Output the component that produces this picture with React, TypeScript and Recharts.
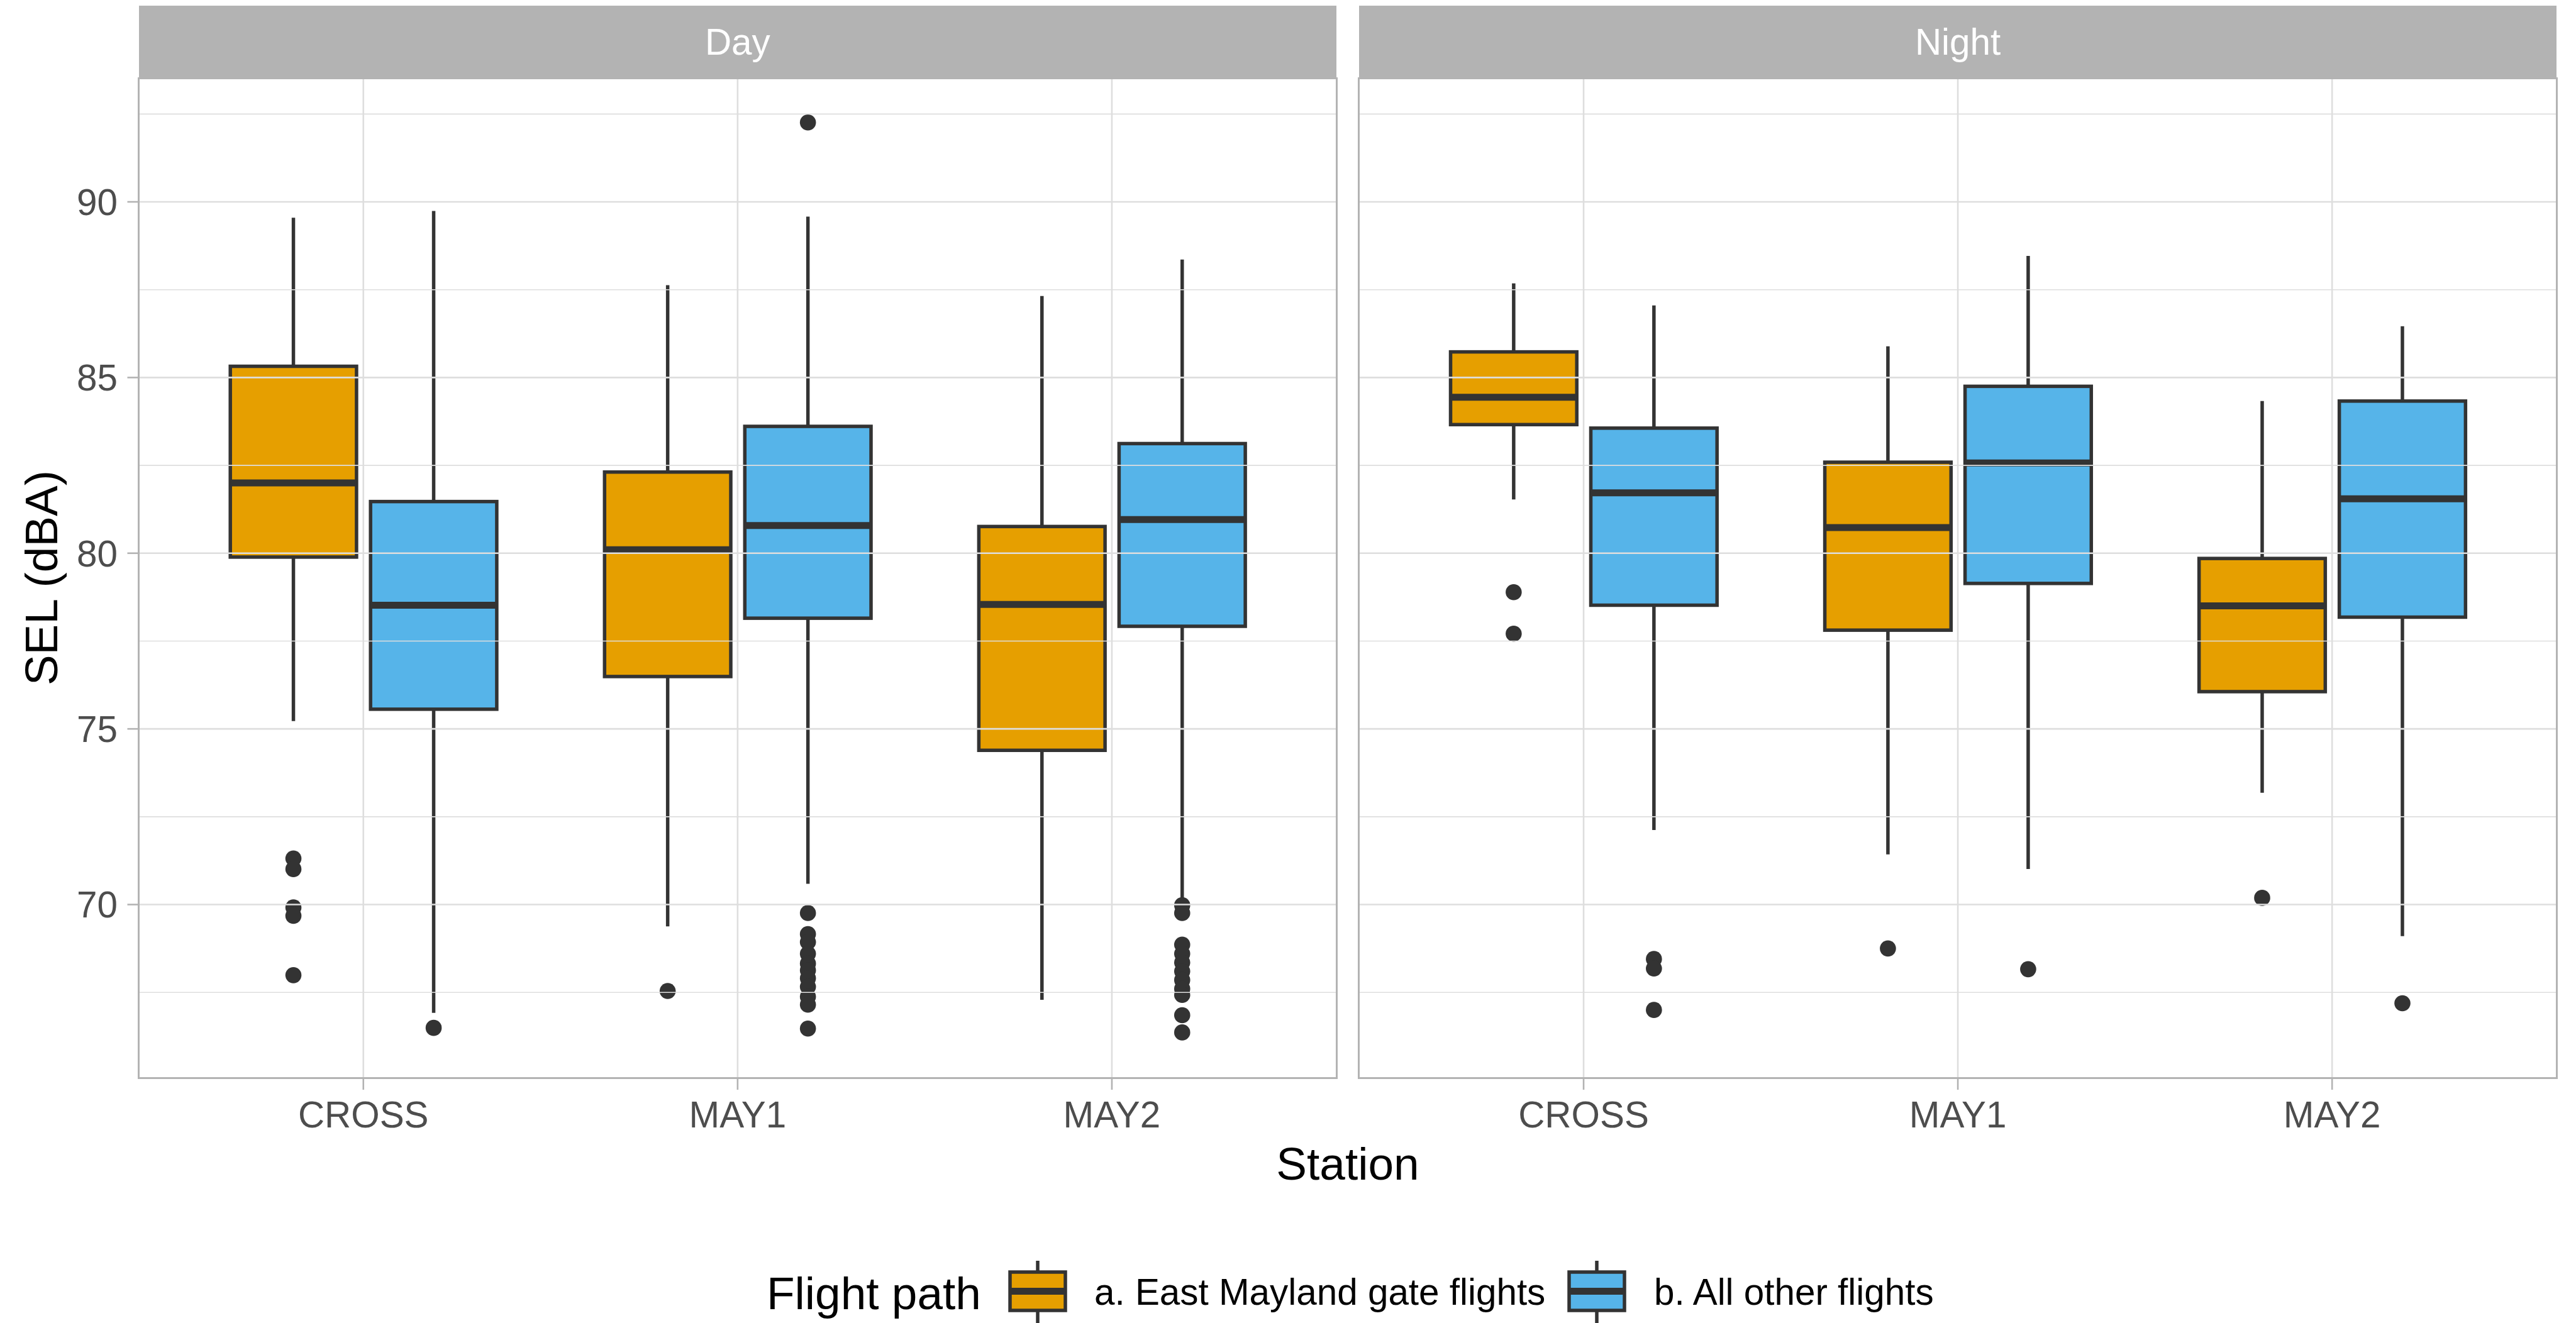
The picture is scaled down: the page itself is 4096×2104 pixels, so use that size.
import React from 'react';
import { BarChart, Bar, XAxis, YAxis, ReferenceLine, Legend, Label } from 'recharts';

// ---------- data ----------
const stations = ['CROSS', 'MAY1', 'MAY2'];
const panelNames = ['Day', 'Night'];
const groupLabels = ['a. East Mayland gate flights', 'b. All other flights'];
const groupColors = ['#E69F00', '#56B4E9'];
const legendTitle = 'Flight path';
const xTitle = 'Station';
const yTitle = 'SEL (dBA)';
const yMajorTicks = [70, 75, 80, 85, 90];
const yMinorTicks = [67.5, 72.5, 77.5, 82.5, 87.5, 92.5];
const yDomain = [65.07, 93.51];

// Day - a. East Mayland gate flights
const dayEastLow = [75.22, 69.38, 67.29];
const dayEastQ1 = [79.89, 76.49, 74.39];
const dayEastMed = [82.0, 80.1, 78.54];
const dayEastQ3 = [85.32, 82.31, 80.76];
const dayEastHigh = [89.55, 87.63, 87.32];
const dayEastOut = [[71.31, 71.01, 69.92, 69.68, 67.99], [67.54], []];

// Day - b. All other flights
const dayOtherLow = [66.92, 70.59, 70.17];
const dayOtherQ1 = [75.56, 78.15, 77.92];
const dayOtherMed = [78.52, 80.79, 80.96];
const dayOtherQ3 = [81.47, 83.61, 83.12];
const dayOtherHigh = [89.74, 89.58, 88.36];
const dayOtherOut = [
  [66.49],
  [92.26, 69.76, 69.16, 68.93, 68.6, 68.32, 68.13, 67.9, 67.66, 67.38, 67.15, 66.47],
  [69.98, 69.76, 68.86, 68.6, 68.35, 68.1, 67.85, 67.6, 67.43, 66.85, 66.36],
];

// Night - a. East Mayland gate flights
const nightEastLow = [81.53, 71.43, 73.18];
const nightEastQ1 = [83.66, 77.81, 76.06];
const nightEastMed = [84.44, 80.73, 78.5];
const nightEastQ3 = [85.73, 82.59, 79.85];
const nightEastHigh = [87.68, 85.89, 84.33];
const nightEastOut = [[78.89, 77.71], [68.75], [70.19]];

// Night - b. All other flights
const nightOtherLow = [72.12, 71.01, 69.1];
const nightOtherQ1 = [78.52, 79.14, 78.18];
const nightOtherMed = [81.72, 82.57, 81.55];
const nightOtherQ3 = [83.56, 84.75, 84.33];
const nightOtherHigh = [87.05, 88.46, 86.46];
const nightOtherOut = [[68.45, 68.18, 67.0], [68.16], [67.19]];

const stat = (low, q1, med, q3, high, out, i) => ({
  low: low[i], q1: q1[i], med: med[i], q3: q3[i], high: high[i], out: out[i],
});

const dayRows = stations.map((station, i) => ({
  station,
  a: stat(dayEastLow, dayEastQ1, dayEastMed, dayEastQ3, dayEastHigh, dayEastOut, i),
  b: stat(dayOtherLow, dayOtherQ1, dayOtherMed, dayOtherQ3, dayOtherHigh, dayOtherOut, i),
}));
const nightRows = stations.map((station, i) => ({
  station,
  a: stat(nightEastLow, nightEastQ1, nightEastMed, nightEastQ3, nightEastHigh, nightEastOut, i),
  b: stat(nightOtherLow, nightOtherQ1, nightOtherMed, nightOtherQ3, nightOtherHigh, nightOtherOut, i),
}));

// ---------- style ----------
const FONT = '"Liberation Sans", Arial, Helvetica, sans-serif';
const W = 4096;
const H = 2104;
const PANEL_TOP = 124.9;
const PANEL_BOTTOM = 1714;
const XAXIS_H = 100;
const LEFT_PANEL = [220.7, 2125];
const RIGHT_PANEL = [2161, 4065.2];
const STRIP_TOP = 9.1;
const LINE = '#333333';
const GRID = '#DEDEDE';
const FRAME = '#B3B3B3';
const TICK_TXT = '#4D4D4D';
const BOX_LW = 5.5;
const MED_LW = 11;
const PT_R = 12.8;
const TICK_FS = 58.4;
const TITLE_FS = 73;

const BoxShape = (props) => {
  const { x, y, width, height, stats, fill } = props;
  if (!stats) return null;
  const top = Math.min(y, y + height);
  const bot = Math.max(y, y + height);
  const k = (bot - top) / (stats.q3 - stats.q1);
  const py = (v) => bot - (v - stats.q1) * k;
  const cx = x + width / 2;
  return (
    <g>
      <line x1={cx} x2={cx} y1={py(stats.high)} y2={top} stroke={LINE} strokeWidth={BOX_LW} />
      <line x1={cx} x2={cx} y1={bot} y2={py(stats.low)} stroke={LINE} strokeWidth={BOX_LW} />
      <rect x={x} y={top} width={width} height={bot - top} fill={fill} stroke={LINE} strokeWidth={BOX_LW} />
      <line x1={x} x2={x + width} y1={py(stats.med)} y2={py(stats.med)} stroke={LINE} strokeWidth={MED_LW} />
      {stats.out.map((v, j) => (
        <circle key={j} cx={cx} cy={py(v)} r={PT_R} fill={LINE} />
      ))}
    </g>
  );
};

const XTick = (props) => {
  const { x, y, payload } = props;
  return (
    <text x={x} y={y + 60} textAnchor="middle" fill={TICK_TXT} fontSize={TICK_FS} fontFamily={FONT}>
      {payload.value}
    </text>
  );
};

const LegendContent = () => {
  const keyX = [1606, 2495];
  const labelX = [1740, 2630];
  const kw = 88;
  const boxTop = 2023;
  const boxBot = 2084;
  const med = (boxTop + boxBot) / 2;
  return (
    <svg width={W} height={H} style={{ position: 'absolute', left: 0, top: 0, overflow: 'visible' }}>
      <text x={1219} y={2082} fontSize={TITLE_FS} fontFamily={FONT} fill="#000">{legendTitle}</text>
      {groupLabels.map((lab, i) => (
        <g key={lab}>
          <line x1={keyX[i] + kw / 2} x2={keyX[i] + kw / 2} y1={2005} y2={boxTop} stroke={LINE} strokeWidth={BOX_LW} />
          <line x1={keyX[i] + kw / 2} x2={keyX[i] + kw / 2} y1={boxBot} y2={2140} stroke={LINE} strokeWidth={BOX_LW} />
          <rect x={keyX[i]} y={boxTop} width={kw} height={boxBot - boxTop} fill={groupColors[i]} stroke={LINE} strokeWidth={BOX_LW} />
          <line x1={keyX[i]} x2={keyX[i] + kw} y1={med} y2={med} stroke={LINE} strokeWidth={MED_LW} />
          <text x={labelX[i]} y={2075} fontSize={TICK_FS} fontFamily={FONT} fill="#000">{lab}</text>
        </g>
      ))}
    </svg>
  );
};

const Panel = ({ rows, panelRange, showY, showLegend }) => {
  const margin = {
    top: PANEL_TOP,
    bottom: H - PANEL_BOTTOM - XAXIS_H,
    left: showY ? 0 : panelRange[0],
    right: W - panelRange[1],
  };
  return (
    <div style={{ position: 'absolute', left: 0, top: 0 }}>
      <BarChart width={W} height={H} data={rows} margin={margin} barSize={200.7} barGap={22.3}>
        <XAxis
          dataKey="station"
          type="category"
          height={XAXIS_H}
          padding={{ left: 59.5, right: 59.5 }}
          axisLine={false}
          tickLine={{ stroke: FRAME, strokeWidth: 2.6 }}
          tickSize={19}
          tickMargin={0}
          tick={<XTick />}
          interval={0}
        >
          {showY ? (
            <Label
              content={() => (
                <text x={2143} y={1876} textAnchor="middle" fontSize={TITLE_FS} fontFamily={FONT} fill="#000">
                  {xTitle}
                </text>
              )}
            />
          ) : null}
        </XAxis>
        <YAxis
          type="number"
          domain={yDomain}
          allowDataOverflow
          ticks={yMajorTicks}
          hide={!showY}
          width={showY ? 220.7 : 0}
          axisLine={false}
          tickLine={{ stroke: FRAME, strokeWidth: 2.6 }}
          tickSize={18.2}
          tickMargin={15.5}
          tick={{ fill: TICK_TXT, fontSize: TICK_FS, fontFamily: FONT }}
        >
          {showY ? (
            <Label
              content={() => (
                <text
                  x={91}
                  y={919}
                  textAnchor="middle"
                  transform="rotate(-90 91 919)"
                  fontSize={TITLE_FS}
                  fontFamily={FONT}
                  fill="#000"
                >
                  {yTitle}
                </text>
              )}
            />
          ) : null}
        </YAxis>
        {yMinorTicks.map((v) => (
          <ReferenceLine key={'mi' + v} y={v} stroke={GRID} strokeWidth={1.6} />
        ))}
        {yMajorTicks.map((v) => (
          <ReferenceLine key={'ma' + v} y={v} stroke={GRID} strokeWidth={2.6} />
        ))}
        {stations.map((s) => (
          <ReferenceLine key={'v' + s} x={s} stroke={GRID} strokeWidth={2.6} />
        ))}
        <Bar
          dataKey={(d) => [d.a.q1, d.a.q3]}
          name={groupLabels[0]}
          fill={groupColors[0]}
          isAnimationActive={false}
          shape={(p) => <BoxShape {...p} stats={p.payload && p.payload.a} fill={groupColors[0]} />}
        />
        <Bar
          dataKey={(d) => [d.b.q1, d.b.q3]}
          name={groupLabels[1]}
          fill={groupColors[1]}
          isAnimationActive={false}
          shape={(p) => <BoxShape {...p} stats={p.payload && p.payload.b} fill={groupColors[1]} />}
        />
        {showLegend ? (
          <Legend
            layout="vertical"
            verticalAlign="middle"
            align="center"
            content={() => <LegendContent />}
            wrapperStyle={{ left: 0, top: 0, width: W, height: H, pointerEvents: 'none' }}
          />
        ) : null}
      </BarChart>
    </div>
  );
};

const Strip = ({ range, label }) => (
  <div
    style={{
      position: 'absolute',
      left: range[0],
      top: STRIP_TOP,
      width: range[1] - range[0],
      height: PANEL_TOP - STRIP_TOP,
      background: FRAME,
      color: '#FFFFFF',
      fontSize: TICK_FS,
      fontFamily: FONT,
      display: 'flex',
      alignItems: 'center',
      justifyContent: 'center',
    }}
  >
    {label}
  </div>
);

const Frame = ({ range }) => {
  const lw = 3.3;
  return (
    <div
      style={{
        position: 'absolute',
        left: range[0] - lw / 2,
        top: PANEL_TOP - lw / 2,
        width: range[1] - range[0] + lw,
        height: PANEL_BOTTOM - PANEL_TOP + lw,
        border: `${lw}px solid ${FRAME}`,
        boxSizing: 'border-box',
        pointerEvents: 'none',
      }}
    />
  );
};

export default function App() {
  return (
    <div
      style={{
        position: 'absolute',
        left: 0,
        top: 0,
        width: W,
        height: H,
        overflow: 'hidden',
        background: '#FFFFFF',
        fontFamily: FONT,
      }}
    >
      <Panel rows={dayRows} panelRange={LEFT_PANEL} showY showLegend={false} />
      <Panel rows={nightRows} panelRange={RIGHT_PANEL} showY={false} showLegend />
      <Strip range={LEFT_PANEL} label={panelNames[0]} />
      <Strip range={RIGHT_PANEL} label={panelNames[1]} />
      <Frame range={LEFT_PANEL} />
      <Frame range={RIGHT_PANEL} />
    </div>
  );
}
